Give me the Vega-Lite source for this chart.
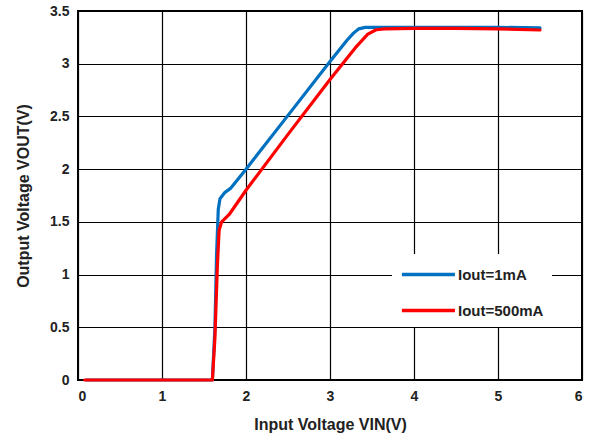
{
  "$schema": "https://vega.github.io/schema/vega-lite/v6.json",
  "width": 504,
  "height": 369,
  "autosize": {"type": "none"},
  "padding": {"left": 78, "top": 11, "right": 7, "bottom": 56},
  "background": "white",
  "config": {
    "view": {"stroke": "black", "strokeWidth": 2},
    "font": "Liberation Sans"
  },
  "data": {
    "values": [
      {"vin": 0.1, "vout": 0, "s": "Iout=1mA"},
      {"vin": 1.6, "vout": 0, "s": "Iout=1mA"},
      {"vin": 1.63, "vout": 0.5, "s": "Iout=1mA"},
      {"vin": 1.65, "vout": 1.2, "s": "Iout=1mA"},
      {"vin": 1.67, "vout": 1.62, "s": "Iout=1mA"},
      {"vin": 1.69, "vout": 1.72, "s": "Iout=1mA"},
      {"vin": 1.75, "vout": 1.78, "s": "Iout=1mA"},
      {"vin": 1.82, "vout": 1.82, "s": "Iout=1mA"},
      {"vin": 2.0, "vout": 2.0, "s": "Iout=1mA"},
      {"vin": 2.5, "vout": 2.51, "s": "Iout=1mA"},
      {"vin": 3.0, "vout": 3.02, "s": "Iout=1mA"},
      {"vin": 3.2, "vout": 3.22, "s": "Iout=1mA"},
      {"vin": 3.28, "vout": 3.29, "s": "Iout=1mA"},
      {"vin": 3.34, "vout": 3.33, "s": "Iout=1mA"},
      {"vin": 3.42, "vout": 3.345, "s": "Iout=1mA"},
      {"vin": 3.5, "vout": 3.345, "s": "Iout=1mA"},
      {"vin": 4.0, "vout": 3.345, "s": "Iout=1mA"},
      {"vin": 4.5, "vout": 3.345, "s": "Iout=1mA"},
      {"vin": 5.0, "vout": 3.345, "s": "Iout=1mA"},
      {"vin": 5.5, "vout": 3.34, "s": "Iout=1mA"},
      {"vin": 0.08, "vout": 0, "s": "Iout=500mA"},
      {"vin": 1.6, "vout": 0, "s": "Iout=500mA"},
      {"vin": 1.63, "vout": 0.4, "s": "Iout=500mA"},
      {"vin": 1.66, "vout": 1.1, "s": "Iout=500mA"},
      {"vin": 1.68, "vout": 1.42, "s": "Iout=500mA"},
      {"vin": 1.71, "vout": 1.5, "s": "Iout=500mA"},
      {"vin": 1.8, "vout": 1.57, "s": "Iout=500mA"},
      {"vin": 2.0, "vout": 1.8, "s": "Iout=500mA"},
      {"vin": 2.5, "vout": 2.33, "s": "Iout=500mA"},
      {"vin": 3.0, "vout": 2.85, "s": "Iout=500mA"},
      {"vin": 3.3, "vout": 3.15, "s": "Iout=500mA"},
      {"vin": 3.45, "vout": 3.28, "s": "Iout=500mA"},
      {"vin": 3.55, "vout": 3.322, "s": "Iout=500mA"},
      {"vin": 3.65, "vout": 3.33, "s": "Iout=500mA"},
      {"vin": 4.0, "vout": 3.335, "s": "Iout=500mA"},
      {"vin": 4.5, "vout": 3.335, "s": "Iout=500mA"},
      {"vin": 5.0, "vout": 3.33, "s": "Iout=500mA"},
      {"vin": 5.5, "vout": 3.32, "s": "Iout=500mA"}
    ]
  },
  "mark": {"type": "line", "strokeWidth": 3.2, "strokeCap": "round", "strokeJoin": "round"},
  "encoding": {
    "x": {
      "field": "vin", "type": "quantitative",
      "scale": {"domain": [0, 6], "nice": false},
      "axis": {
        "values": [0, 1, 2, 3, 4, 5, 6],
        "format": "~g",
        "title": "Input Voltage VIN(V)",
        "titleFont": "Liberation Sans", "titleFontSize": 16, "titleFontWeight": "bold", "titleColor": "#222",
        "titlePadding": 13,
        "labelFont": "Liberation Sans", "labelFontSize": 14, "labelFontWeight": "bold", "labelColor": "#222",
        "labelPadding": 9,
        "ticks": false, "domain": false,
        "grid": true, "gridColor": "black", "gridWidth": 1.2, "gridOpacity": 1
      }
    },
    "y": {
      "field": "vout", "type": "quantitative",
      "scale": {"domain": [0, 3.5], "nice": false},
      "axis": {
        "values": [0, 0.5, 1, 1.5, 2, 2.5, 3, 3.5],
        "format": "~g",
        "title": "Output Voltage VOUT(V)",
        "titleFont": "Liberation Sans", "titleFontSize": 16, "titleFontWeight": "bold", "titleColor": "#222",
        "titlePadding": 18,
        "labelFont": "Liberation Sans", "labelFontSize": 14, "labelFontWeight": "bold", "labelColor": "#222",
        "labelPadding": 9,
        "ticks": false, "domain": false,
        "grid": true, "gridColor": "black", "gridWidth": 1.2, "gridOpacity": 1
      }
    },
    "color": {
      "field": "s", "type": "nominal",
      "scale": {"domain": ["Iout=1mA", "Iout=500mA"], "range": ["#0070C0", "#FF0000"]},
      "legend": {
        "title": null,
        "orient": "none",
        "legendX": 314,
        "legendY": 243,
        "fillColor": "white",
        "padding": 8,
        "symbolType": "M-1,0H4",
        "symbolSize": 450,
        "symbolStrokeWidth": 3.5,
        "labelFont": "Liberation Sans", "labelFontSize": 15, "labelFontWeight": "bold", "labelColor": "#222",
        "labelOffset": 33,
        "rowPadding": 15
      }
    }
  }
}
